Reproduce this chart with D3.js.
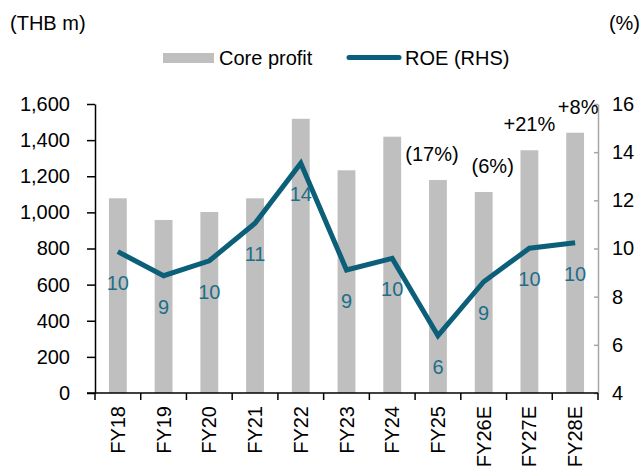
<!DOCTYPE html>
<html><head><meta charset="utf-8">
<script src="https://cdn.jsdelivr.net/npm/d3@7"></script>
<style>
body{margin:0;background:#fff;}
text{font-family:"Liberation Sans",Arial,sans-serif;}
</style></head>
<body><svg id="c" width="642" height="468"></svg>
<script>
const categories = ["FY18","FY19","FY20","FY21","FY22","FY23","FY24","FY25","FY26E","FY27E","FY28E"];
const coreProfit = [1078,958,1002,1078,1518,1233,1419,1179,1113,1344,1441];
const roe = [9.87,8.87,9.49,11.05,13.54,9.11,9.59,6.38,8.62,10.01,10.24];
const roeLabels = ["10","9","10","11","14","9","10","6","9","10","10"];
const growthLabels = ["","","","","","","","(17%)","(6%)","+21%","+8%"];
const leftTicks = [0,200,400,600,800,1000,1200,1400,1600];
const rightTicks = [4,6,8,10,12,14,16];

const FS = "20px";
const svg = d3.select("#c");
const x = d3.scaleBand().domain(categories).range([95,598]).paddingInner(0).paddingOuter(0);
const yL = d3.scaleLinear().domain([0,1600]).range([393,104]);
const yR = d3.scaleLinear().domain([4,16]).range([393,104]);
const bw = x.bandwidth()*0.39;
const cx = d => x(d)+x.bandwidth()/2;

// bars
svg.append("g").selectAll("rect").data(categories).join("rect")
  .attr("x", d=>cx(d)-bw/2).attr("width", bw)
  .attr("y", (d,i)=>yL(coreProfit[i])).attr("height",(d,i)=>yL(0)-yL(coreProfit[i]))
  .attr("fill","#bfbfbf");

// left axis
const gl = svg.append("g").attr("transform","translate(95,0)")
  .call(d3.axisLeft(yL).tickValues(leftTicks).tickSize(8).tickSizeOuter(0).tickPadding(17).tickFormat(d3.format(",")));
gl.selectAll("text").attr("font-size",FS).attr("fill","#000").style("font-family","Liberation Sans, Arial, sans-serif");
gl.selectAll("line,path").attr("stroke","#000").attr("stroke-width",1.5);

// right axis
const gr = svg.append("g").attr("transform","translate(598,0)")
  .call(d3.axisRight(yR).tickValues(rightTicks).tickSize(-4).tickSizeOuter(0).tickPadding(14));
gr.selectAll("text").attr("font-size",FS).attr("fill","#000").style("font-family","Liberation Sans, Arial, sans-serif");
gr.selectAll("line,path").attr("stroke","#a6a6a6").attr("stroke-width",1.5);

// bottom axis
const gb = svg.append("g").attr("transform","translate(0,393)")
  .call(d3.axisBottom(x).tickSize(0).tickPadding(0));
gb.select("path").remove();
gb.selectAll("text").attr("font-size",FS).attr("fill","#000")
  .style("font-family","Liberation Sans, Arial, sans-serif")
  .attr("transform","rotate(-90)").attr("text-anchor","end")
  .attr("x",-13).attr("y",0).attr("dy","0.35em");
const bounds = categories.map(c=>x(c)).concat([x.range()[1]]);
svg.append("line").attr("x1",87).attr("x2",598).attr("y1",393).attr("y2",393).attr("stroke","#000").attr("stroke-width",1.5);
svg.append("g").selectAll("line").data(bounds).join("line")
  .attr("x1",d=>d).attr("x2",d=>d).attr("y1",393).attr("y2",400).attr("stroke","#000").attr("stroke-width",1.5);

// ROE line
const line = d3.line().x((d,i)=>cx(categories[i])).y(d=>yR(d));
svg.append("path").datum(roe).attr("d",line).attr("fill","none")
  .attr("stroke","#0c5f78").attr("stroke-width",5).attr("stroke-linejoin","miter");

svg.append("g").selectAll("text").data(roeLabels).join("text")
  .attr("x",(d,i)=>cx(categories[i])).attr("y",(d,i)=>yR(roe[i])+38)
  .attr("text-anchor","middle").attr("font-size",FS).attr("fill","#1d6e89").text(d=>d);

// growth annotations (small horizontal nudges to avoid overlap, as in the source)
const nudge = {7:-6, 8:9, 10:3};
svg.append("g").selectAll("text").data(growthLabels).join("text")
  .attr("x",(d,i)=>cx(categories[i])+(nudge[i]||0)).attr("y",(d,i)=>yL(coreProfit[i])-19)
  .attr("text-anchor","middle").attr("font-size",FS).attr("fill","#000").text(d=>d);

// unit labels
svg.append("text").attr("x",10).attr("y",30).attr("font-size",FS).text("(THB m)");
svg.append("text").attr("x",640).attr("y",30).attr("text-anchor","end").attr("font-size",FS).text("(%)");

// legend
svg.append("rect").attr("x",163).attr("y",53).attr("width",51).attr("height",10).attr("fill","#bfbfbf");
svg.append("text").attr("x",219).attr("y",65).attr("font-size",FS).text("Core profit");
svg.append("line").attr("x1",349).attr("x2",399).attr("y1",57.5).attr("y2",57.5)
  .attr("stroke","#0c5f78").attr("stroke-width",5).attr("stroke-linecap","round");
svg.append("text").attr("x",405).attr("y",65).attr("font-size",FS).text("ROE (RHS)");
</script></body></html>
